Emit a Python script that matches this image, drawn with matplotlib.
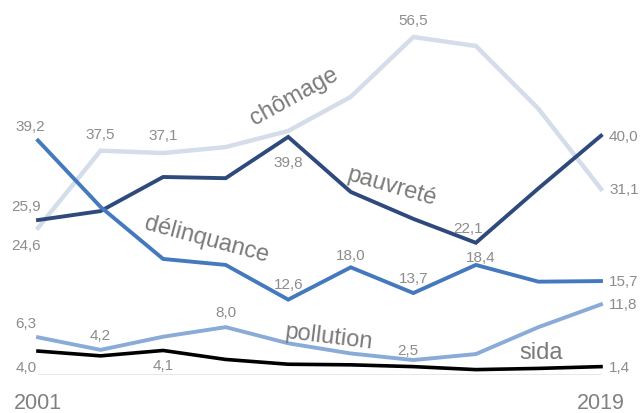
import numpy as np
import matplotlib.pyplot as plt

plt.rcParams['font.family'] = ['Liberation Sans', 'DejaVu Sans']

years = np.arange(2001, 2020, 2)

chomage = [24.6, 37.5, 37.1, 38.1, 40.8, 46.5, 56.5, 55.0, 44.5, 31.1]
pauvrete = [25.9, 27.4, 33.1, 32.9, 39.8, 30.6, 26.1, 22.1, 31.2, 40.0]
delinquance = [39.2, 28.1, 19.4, 18.4, 12.6, 18.0, 13.7, 18.4, 15.6, 15.7]
pollution = [6.3, 4.2, 6.4, 8.0, 5.3, 3.6, 2.5, 3.5, 8.0, 11.8]
sida = [4.0, 3.2, 4.1, 2.6, 1.8, 1.7, 1.4, 0.9, 1.1, 1.4]

series = [
    ('chômage', chomage, '#d5ddeb', 3.2),
    ('pauvreté', pauvrete, '#2e4a7d', 2.8),
    ('délinquance', delinquance, '#4579be', 2.8),
    ('pollution', pollution, '#8aaad8', 2.8),
    ('sida', sida, '#000000', 2.6),
]

# which points get a value label: (index, dx, dy, ha, va) offsets in pixels
value_labels = {
    'chômage': [(0, -12, -10, 'center', 'top'), (1, 0, 10, 'center', 'bottom'),
                (2, 0, 11, 'center', 'bottom'), (6, 0, 10, 'center', 'bottom'),
                (9, 8, 0, 'left', 'center')],
    'pauvreté': [(0, -12, 7, 'center', 'bottom'), (4, 0, -18, 'center', 'top'),
                 (7, -8, 8, 'center', 'bottom'), (9, 8, 0, 'left', 'center')],
    'délinquance': [(0, -8, 7, 'center', 'bottom'), (4, 0, 9, 'center', 'bottom'),
                    (5, 0, 5, 'center', 'bottom'), (6, 0, 8, 'center', 'bottom'),
                    (7, 5, 1, 'center', 'bottom'), (9, 8, 0, 'left', 'center')],
    'pollution': [(0, -12, 7, 'center', 'bottom'), (1, 0, 8, 'center', 'bottom'),
                  (3, 0, 8, 'center', 'bottom'), (6, -6, 3, 'center', 'bottom'),
                  (9, 8, 0, 'left', 'center')],
    'sida': [(0, -12, -9, 'center', 'top'), (2, 0, -8, 'center', 'top'),
             (9, 8, 0, 'left', 'center')],
}

# series names drawn along the lines: x, y, rotation
name_pos = {
    'chômage': (2009.2, 46.7, 29),
    'pauvreté': (2012.3, 31.5, -16),
    'délinquance': (2006.4, 22.7, -15),
    'pollution': (2010.3, 6.5, -7),
    'sida': (2017.1, 3.8, 0),
}

fig = plt.figure(figsize=(6.43, 4.14), dpi=100)
W, H = 643, 414
ax = fig.add_axes([38 / W, (H - 376) / H, (601 - 38) / W, (376 - 38) / H])
ax.set_xlim(2001, 2019)
ax.set_ylim(0, 56.5)

ax.axhline(0, color='#e3e3e3', lw=1.2, zorder=1)

grey = '#8c8c8c'
for name, vals, color, lw in series:
    ax.plot(years, vals, color=color, lw=lw, clip_on=False, zorder=3,
            solid_joinstyle='miter')
    for i, dx, dy, ha, va in value_labels[name]:
        ax.annotate(f'{vals[i]:.1f}'.replace('.', ','), xy=(years[i], vals[i]),
                    xytext=(dx, dy), textcoords='offset pixels',
                    ha=ha, va=va, fontsize=11, color=grey, zorder=4,
                    annotation_clip=False)
    x, y, rot = name_pos[name]
    ax.text(x, y, name, fontsize=17, color='#7a7a7a', rotation=rot,
            rotation_mode='anchor', ha='center', va='center', zorder=4)

ax.set_xticks([2001, 2019])
ax.set_xticklabels(['2001', '2019'])
ax.tick_params(axis='x', length=0, pad=12, labelsize=15.5, labelcolor='#808080')
ax.set_yticks([])
for s in ax.spines.values():
    s.set_visible(False)

fig.savefig('out.png', dpi=100)
